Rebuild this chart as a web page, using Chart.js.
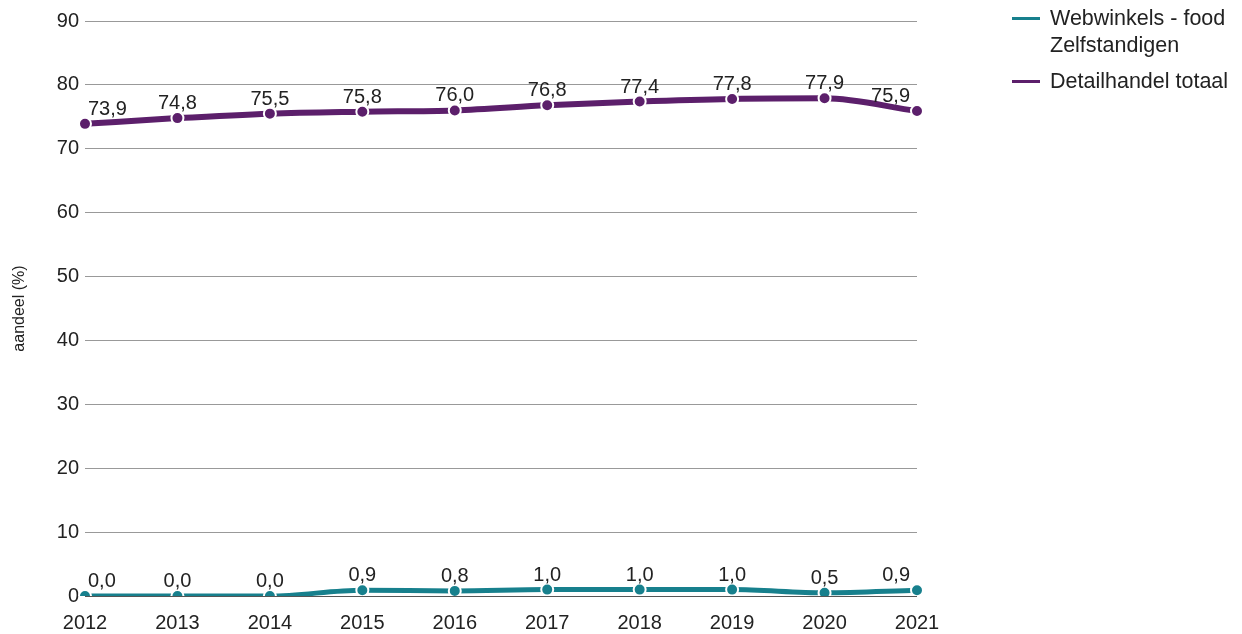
<!DOCTYPE html>
<html>
<head>
<meta charset="utf-8">
<script src="https://cdn.jsdelivr.net/npm/chart.js@4/dist/chart.umd.min.js"></script>
<style>
  html, body { margin: 0; padding: 0; background: #fff; }
  #wrap { position: relative; width: 1242px; height: 634px; }
  #legend { position: absolute; left: 1012px; top: 5px; font-family: "Liberation Sans", Arial, sans-serif; font-size: 21.5px; color: #222; }
  .item { display: flex; align-items: flex-start; margin-bottom: 9px; line-height: 27px; }
  .swatch { width: 28px; height: 3px; margin-top: 12px; margin-right: 10px; flex: none; }
</style>
</head>
<body>
<div id="wrap">
  <canvas id="chart" width="1242" height="634"></canvas>
  <div id="legend"></div>
</div>
<script>
// Data
const years = ['2012', '2013', '2014', '2015', '2016', '2017', '2018', '2019', '2020', '2021'];
const webwinkelsFood = [0.0, 0.0, 0.0, 0.9, 0.8, 1.0, 1.0, 1.0, 0.5, 0.9];
const detailhandelTotaal = [73.9, 74.8, 75.5, 75.8, 76.0, 76.8, 77.4, 77.8, 77.9, 75.9];
const seriesNames = [['Webwinkels - food', 'Zelfstandigen'], ['Detailhandel totaal']];

const TEAL = '#17808d';
const PURPLE = '#5c1f6b';
const FONT = '"Liberation Sans", Arial, sans-serif';

// Value labels above points, clamped inside chart area
const valueLabels = {
    id: 'valueLabels',
    afterDatasetsDraw(chart) {
        const ctx = chart.ctx;
        const area = chart.chartArea;
        ctx.save();
        ctx.font = '20px ' + FONT;
        ctx.fillStyle = '#222';
        ctx.textBaseline = 'alphabetic';
        chart.data.datasets.forEach((ds, i) => {
            chart.getDatasetMeta(i).data.forEach((pt, j) => {
                const txt = ds.data[j].toFixed(1).replace('.', ',');
                const w = ctx.measureText(txt).width;
                let x = pt.x - w / 2;
                if (x < area.left + 3) x = area.left + 3;
                if (x + w > area.right - 7) x = area.right - 7 - w;
                ctx.fillText(txt, x, pt.y - 9);
            });
        });
        ctx.restore();
    }
};

const ctx = document.getElementById('chart').getContext('2d');
const chart = new Chart(ctx, {
    type: 'line',
    data: {
        labels: years,
        datasets: [{
            label: 'Webwinkels - food Zelfstandigen',
            data: webwinkelsFood,
            borderColor: TEAL,
            backgroundColor: TEAL,
            borderWidth: 5,
            pointRadius: 6,
            pointBorderColor: '#fff',
            pointBorderWidth: 2,
            cubicInterpolationMode: 'monotone'
        }, {
            label: 'Detailhandel totaal',
            data: detailhandelTotaal,
            borderColor: PURPLE,
            backgroundColor: PURPLE,
            borderWidth: 6,
            pointRadius: 6,
            pointBorderColor: '#fff',
            pointBorderWidth: 2,
            cubicInterpolationMode: 'monotone'
        }]
    },
    options: {
        responsive: false,
        animation: false,
        layout: { padding: { top: 21, right: 325, left: 0, bottom: 0 } },
        plugins: { legend: { display: false }, tooltip: { enabled: false } },
        scales: {
            x: {
                offset: false,
                grid: { display: false },
                border: { display: false },
                ticks: { color: '#222', font: { family: FONT, size: 20 }, padding: 7, maxRotation: 0 },
                afterFit: s => { s.height = 38; }
            },
            y: {
                min: 0, max: 90,
                ticks: { stepSize: 10, color: '#222', font: { family: FONT, size: 20 }, padding: 6 },
                grid: { color: c => c.tick.value === 0 ? '#555' : '#999', lineWidth: 1, drawTicks: false },
                border: { display: false },
                title: { display: true, text: 'aandeel (%)', color: '#222', font: { family: FONT, size: 16 }, padding: { top: 10, bottom: 0 } },
                afterFit: s => { s.width = 85; }
            }
        }
    },
    plugins: [valueLabels]
});

// HTML legend
const legend = document.getElementById('legend');
[TEAL, PURPLE].forEach((col, i) => {
    const item = document.createElement('div');
    item.className = 'item';
    item.innerHTML = '<span class="swatch" style="background:' + col + '"></span><span>' + seriesNames[i].join('<br>') + '</span>';
    legend.appendChild(item);
});
</script>
</body>
</html>
